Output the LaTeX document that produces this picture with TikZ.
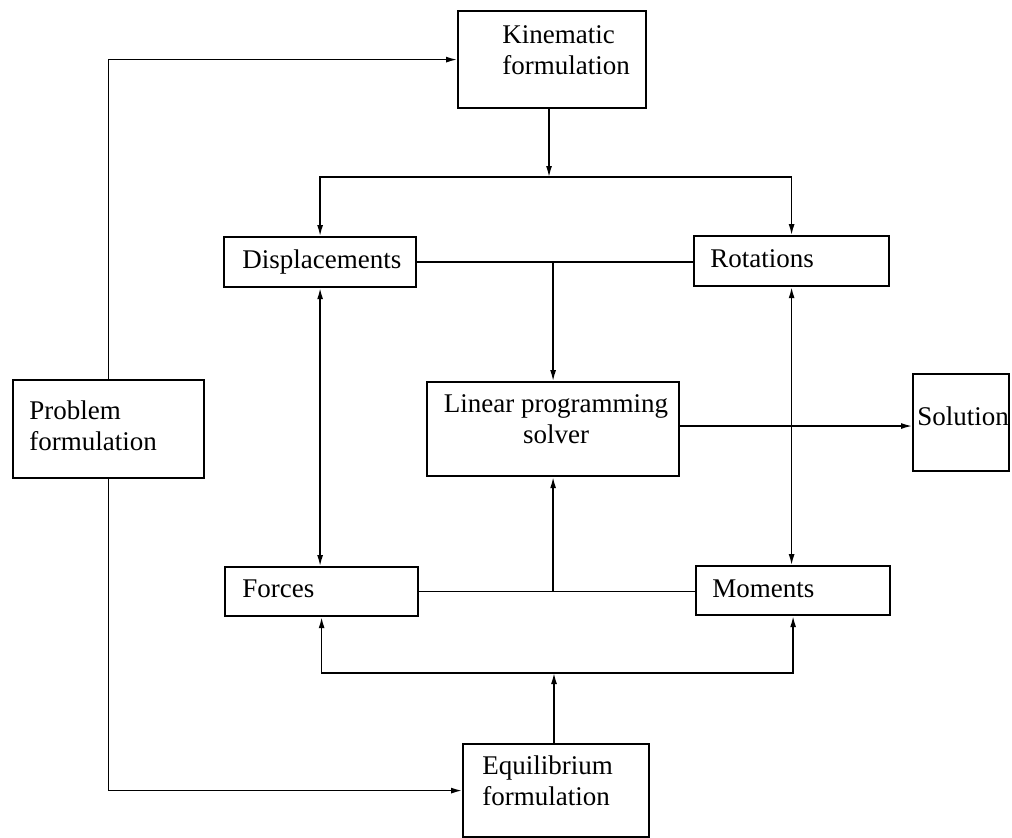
\documentclass[tikz,border=0pt]{standalone}
\usepackage{fontspec}
\setmainfont{Liberation Serif}
\usetikzlibrary{arrows.meta,calc}
\tikzset{
  box/.style={draw,line width=1.1pt,inner sep=0pt,anchor=north west},
  lbl/.style={inner sep=0pt,anchor=base west,font=\fontsize{13.5}{15.5}\selectfont,align=left},
  conn/.style={line width=0.7pt},
  arr/.style={conn,-{Latex[length=5.5pt,width=3pt]}},
  darr/.style={conn,{Latex[length=5.5pt,width=3pt]}-{Latex[length=5.5pt,width=3pt]}}
}
\newcommand{\bx}[5]{% name, x1, y1, x2, y2 (px)
  \node[box,minimum width={(#4-#2)*0.5pt},minimum height={(#5-#3)*0.5pt}] (#1) at (#2,#3) {};}
\begin{document}
\begin{tikzpicture}[x=0.5pt,y=-0.5pt]
\useasboundingbox (0,0) rectangle (1012,837);
% boxes
\bx{kin}{457}{10}{645}{107}
\bx{disp}{223}{236}{415}{286}
\bx{rot}{693}{235}{888}{285}
\bx{lp}{426}{381}{678}{475}
\bx{sol}{912}{373}{1008}{470}
\bx{prob}{12}{379}{203}{477}
\bx{forc}{224}{566}{417}{615}
\bx{mom}{695}{565}{889}{614}
\bx{eq}{462}{743}{648}{836}
% labels (multi-line: base = last line)
\node[lbl] (kint) at (502,74) {Kinematic\\formulation};
\node[lbl] (dispt) at (242,268) {Displacements};
\node[lbl] (rott) at (710,267) {Rotations};
\node[lbl,align=center,anchor=base] (lpt) at (556,443) {Linear programming\\solver};
\node[lbl] (solt) at (917,425) {Solution};
\node[lbl] (probt) at (29,450) {Problem\\formulation};
\node[lbl] (forct) at (242,597) {Forces};
\node[lbl] (momt) at (712,597) {Moments};
\node[lbl] (eqt) at (482,805) {Equilibrium\\formulation};
% junction coordinates
\coordinate (kj) at (549,177);
\coordinate (ej) at (554,673);
% connectors
\draw[arr] (prob.north) |- (kin.west);
\draw[arr] (prob.south) |- (eq.west);
\draw[arr] (kin.south -| kj) -- (kj);
\draw[arr] (kj) -| (disp.north);
\draw[arr] (kj) -| (rot.north);
\draw[conn] (disp.east) -- (disp.east -| rot.west);
\draw[arr] (lp.north |- disp.east) -- (lp.north);
\draw[darr] (disp.south) -- (disp.south |- forc.north);
\draw[darr] (rot.south) -- (rot.south |- mom.north);
\draw[conn] (forc.east) -- (forc.east -| mom.west);
\draw[arr] (lp.south |- forc.east) -- (lp.south);
\draw[arr] (lp.east |- 0,426) -- (sol.west |- 0,426);
\draw[arr] (eq.north -| ej) -- (ej);
\draw[arr] (ej) -| (forc.south);
\draw[arr] (ej) -| (mom.south);
\end{tikzpicture}
\end{document}
